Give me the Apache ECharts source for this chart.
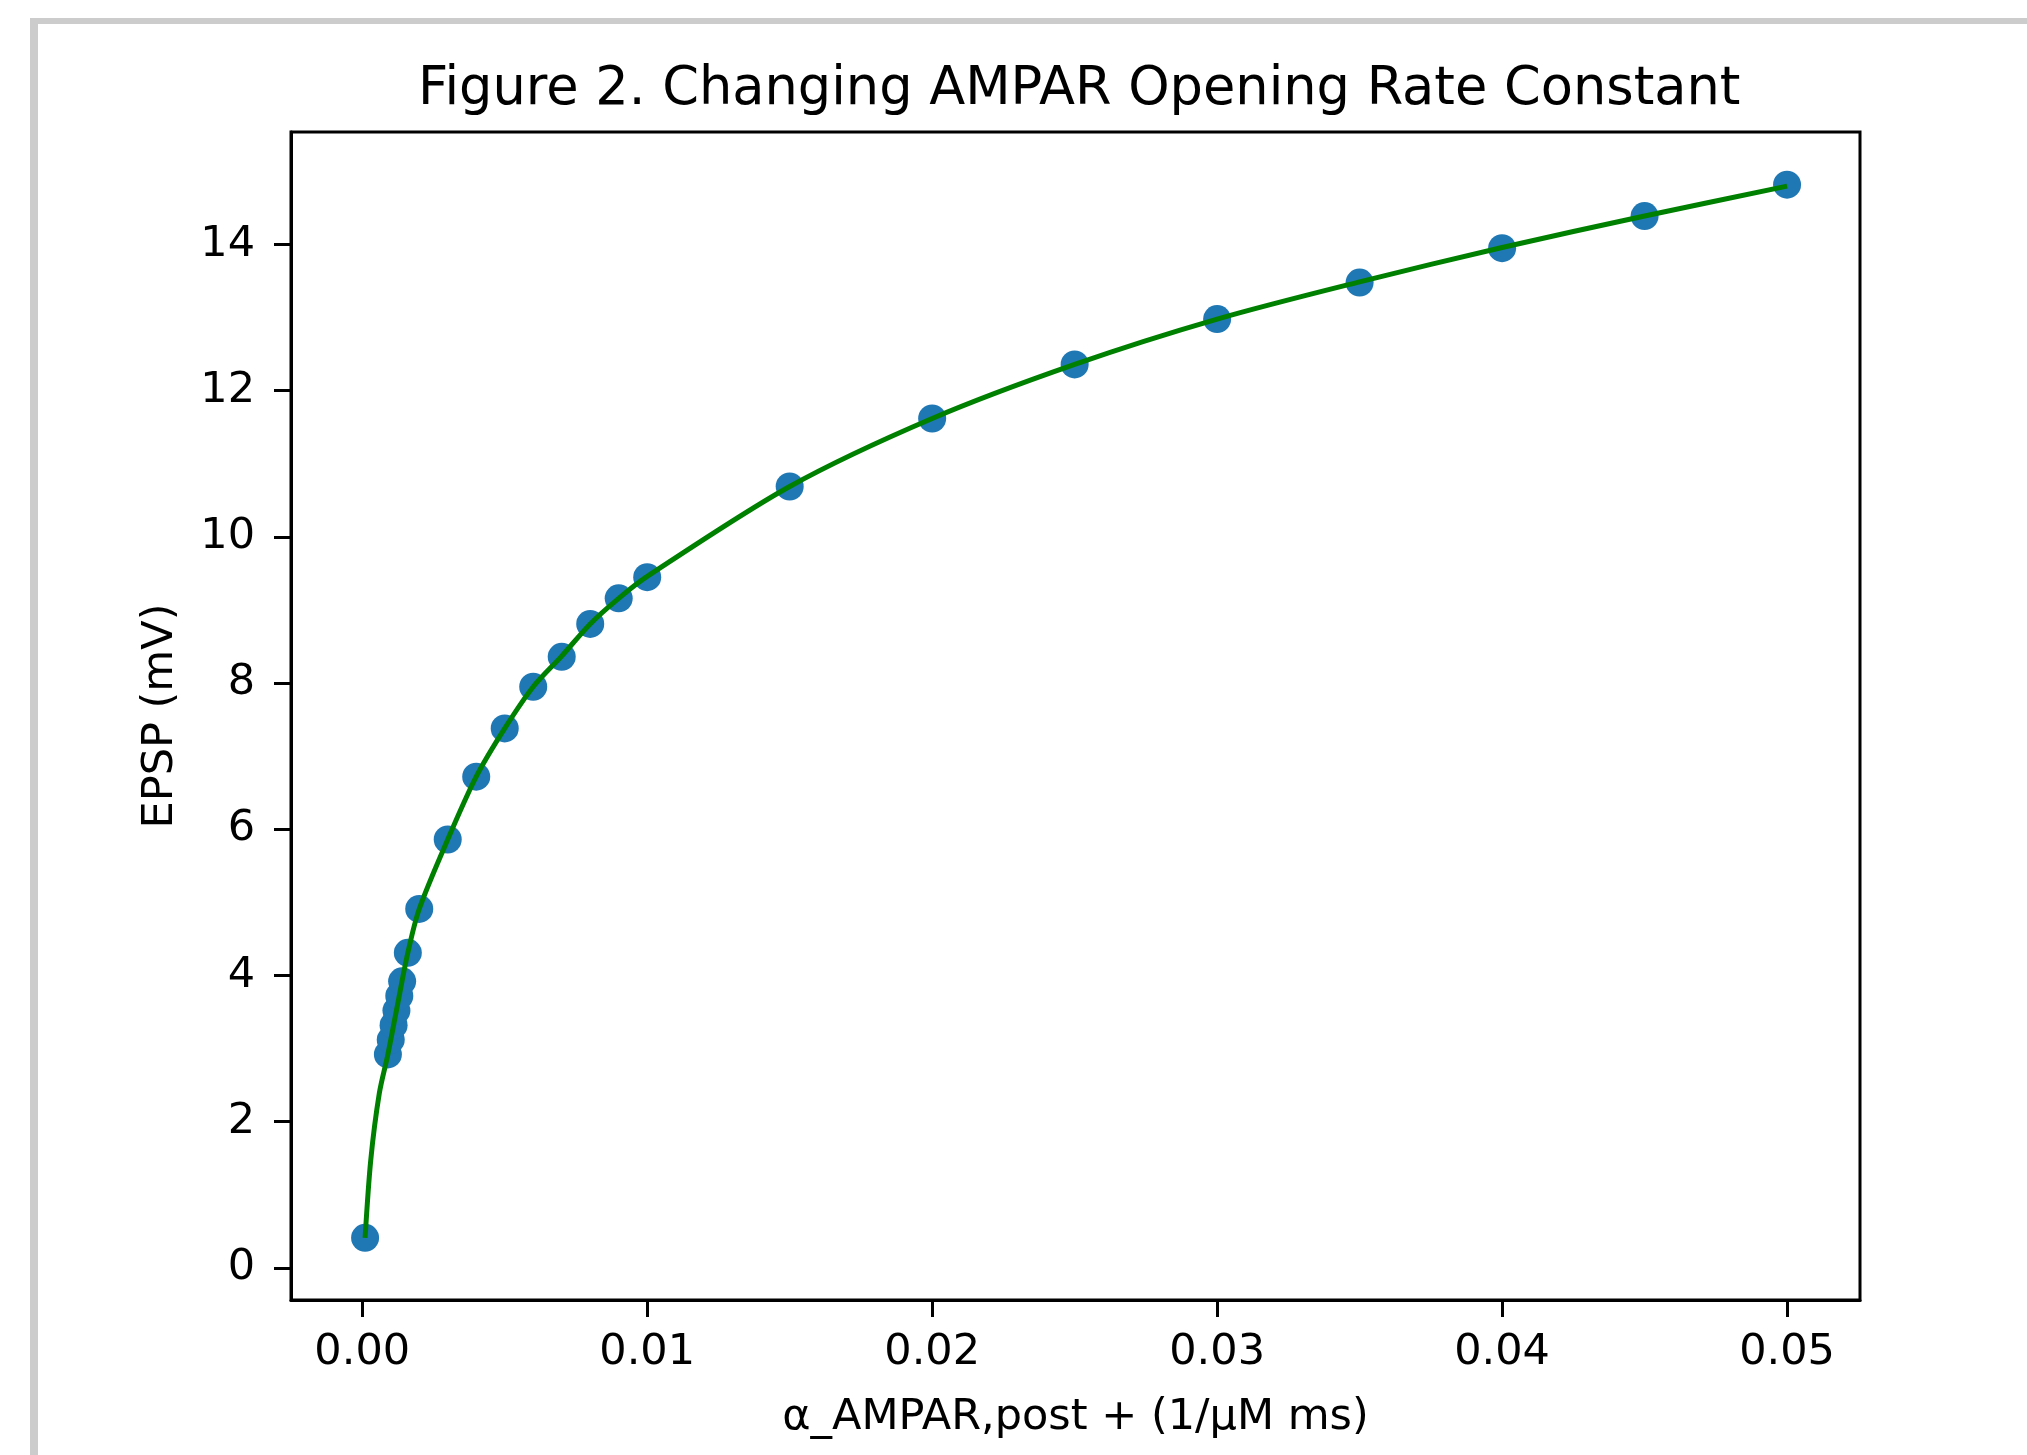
<!DOCTYPE html>
<html>
<head>
<meta charset="utf-8">
<script src="https://cdn.jsdelivr.net/npm/echarts@6/dist/echarts.min.js"></script>
<style>
  html, body { margin: 0; padding: 0; background: #fff; }
  #chart { width: 2027px; height: 1455px; }
  /* screenshot frame, cropped at the right and bottom */
  #frame {
    position: absolute; left: 30px; top: 18px; right: -20px; bottom: -20px;
    border-top: 6px solid #cccccc; border-left: 8px solid #cccccc;
    pointer-events: none;
  }
</style>
</head>
<body>
<div id="chart"></div>
<div id="frame"></div>
<script>
/* ── data ── */
const rateX = [0.0001, 0.0009, 0.001, 0.0011, 0.0012, 0.0013, 0.0014, 0.0016, 0.002,
  0.003, 0.004, 0.005, 0.006, 0.007, 0.008, 0.009, 0.01,
  0.015, 0.02, 0.025, 0.03, 0.035, 0.04, 0.045, 0.05];
const epspY = [0.41, 2.92, 3.12, 3.32, 3.52, 3.72, 3.92, 4.31, 4.91,
  5.86, 6.72, 7.38, 7.95, 8.36, 8.81, 9.16, 9.45,
  10.69, 11.62, 12.36, 12.98, 13.48, 13.95, 14.39, 14.82];

// green curve, traced separately
const fitX = [0.0001, 0.0003, 0.0006, 0.0009, 0.0012, 0.0016, 0.002, 0.003, 0.004, 0.005,
  0.006, 0.007, 0.008, 0.009, 0.01, 0.015, 0.02, 0.025, 0.03, 0.035, 0.04, 0.045, 0.05];
const fitY = [0.41, 1.48, 2.39, 2.92, 3.52, 4.31, 4.91, 5.86, 6.72, 7.38,
  7.95, 8.37, 8.81, 9.16, 9.46, 10.69, 11.62, 12.36, 12.98, 13.49, 13.96, 14.39, 14.8];

const xTicks = [0, 0.01, 0.02, 0.03, 0.04, 0.05];
const yTicks = [0, 2, 4, 6, 8, 10, 12, 14];

const FONT = "DejaVu Sans";
const chart = echarts.init(document.getElementById("chart"));

chart.setOption({
  animation: false,
  backgroundColor: "transparent",
  title: {
    text: "Figure 2. Changing AMPAR Opening Rate Constant",
    left: 413, top: 59,
    textStyle: { fontFamily: FONT, fontSize: 52.6, fontWeight: "normal", color: "#000" },
  },
  grid: {
    left: 291, right: 167, top: 132, bottom: 155,
    show: true, borderColor: "#000", borderWidth: 3, backgroundColor: "#fff",
  },
  xAxis: {
    type: "value", min: -0.0025, max: 0.05256,
    name: "α_AMPAR,post + (1/μM ms)", nameLocation: "middle", nameGap: 96,
    nameTextStyle: { fontFamily: FONT, fontSize: 43, color: "#000" },
    axisLine: { show: true, onZero: false, lineStyle: { color: "#000", width: 3 } },
    axisTick: { show: true, customValues: xTicks, length: 17, lineStyle: { color: "#000", width: 3 } },
    axisLabel: {
      customValues: xTicks, margin: 31,
      fontFamily: FONT, fontSize: 43, color: "#000",
      formatter: (v) => v.toFixed(2),
    },
    splitLine: { show: false },
  },
  yAxis: {
    type: "value", min: -0.44, max: 15.54,
    name: "EPSP (mV)", nameLocation: "middle", nameGap: 109, nameRotate: 90,
    nameTextStyle: { fontFamily: FONT, fontSize: 43, color: "#000" },
    axisLine: { show: true, onZero: false, lineStyle: { color: "#000", width: 3 } },
    axisTick: { show: true, customValues: yTicks, length: 17, lineStyle: { color: "#000", width: 3 } },
    axisLabel: {
      customValues: yTicks, margin: 36,
      fontFamily: FONT, fontSize: 43, color: "#000",
    },
    splitLine: { show: false },
  },
  series: [
    {
      name: "EPSP", type: "scatter",
      data: rateX.map((x, i) => [x, epspY[i]]),
      symbol: "circle", symbolSize: 28,
      itemStyle: { color: "#1f77b4", opacity: 1 },
      z: 2,
    },
    {
      name: "fit", type: "line",
      data: fitX.map((x, i) => [x, fitY[i]]),
      smooth: 0.3, showSymbol: false,
      lineStyle: { color: "#008000", width: 5 },
      z: 3,
    },
  ],
});
</script>
</body>
</html>
